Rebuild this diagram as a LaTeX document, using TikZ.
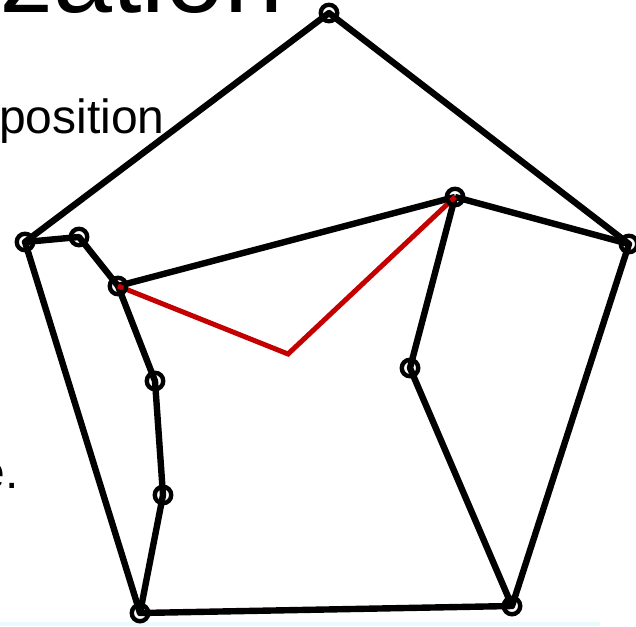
\documentclass[tikz,border=0pt]{standalone}
\usepackage{fontspec}
\setmainfont{Liberation Sans}
\definecolor{bandblue}{RGB}{234,250,253}
\definecolor{pathred}{RGB}{196,0,0}
\begin{document}
\begin{tikzpicture}[x=1pt,y=-1pt,
  edge/.style={line width=6.4pt,black},
  redpath/.style={line width=5pt,pathred},
  vtx/.style={circle,draw=black,line width=4.4pt,minimum size=16.5pt,inner sep=0pt},
  label/.style={inner sep=0pt,anchor=base west}]
\useasboundingbox (0,0) rectangle (636,626);
\fill[bandblue] (0,621.5) rectangle (600,626);
% text
\node[label,font=\fontsize{106}{112}\selectfont] (t1) at (0,13) {zation};
\node[label,font=\fontsize{48}{54}\selectfont] (t2) at (-1,133) {position};
\node[label,anchor=base east,font=\fontsize{48}{54}\selectfont] (t3) at (19,488) {e.};
% coordinates
\coordinate (A) at (329,13);
\coordinate (B) at (629,244);
\coordinate (C) at (512,606);
\coordinate (D) at (140,613);
\coordinate (E) at (25,242);
\coordinate (F) at (79,237);
\coordinate (G) at (118,286);
\coordinate (H) at (155,381);
\coordinate (I) at (163,495);
\coordinate (J) at (455,197);
\coordinate (K) at (410,368);
\coordinate (M) at (288,354);
% edges
\draw[edge,line join=round] (A) -- (B) -- (C) -- (D) -- (E) -- cycle;
\draw[edge,line join=round] (E) -- (F) -- (G) -- (H) -- (I) -- (D);
\draw[edge] (G) -- (J);
\draw[edge] (J) -- (B);
\draw[edge,line join=round] (J) -- (K) -- (C);
\draw[redpath,line join=miter] (G) -- (M) -- (J);
% vertex circles
\foreach \p in {A,B,C,D,E,F,G,H,I,J,K} {
  \node[vtx] (n\p) at (\p) {};
}
\end{tikzpicture}
\end{document}
